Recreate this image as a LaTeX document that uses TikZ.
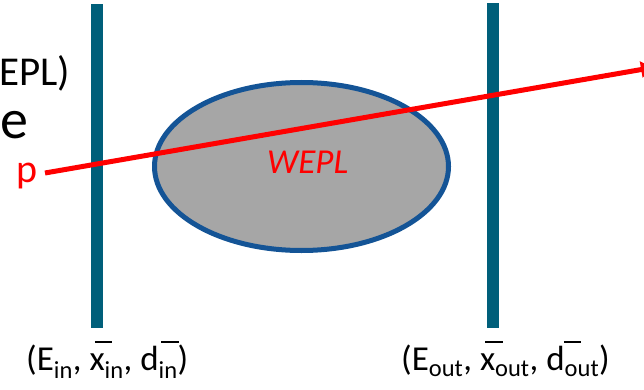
\documentclass[tikz,border=0pt]{standalone}
\usepackage{fontspec}
\setmainfont{Carlito}
\usetikzlibrary{shapes.geometric, positioning, arrows.meta}
\definecolor{detteal}{RGB}{0,95,122}
\definecolor{phantomblue}{RGB}{20,84,150}
\definecolor{phantomgray}{RGB}{166,166,166}
\newcommand{\barred}[2]{\rlap{\hspace{#1}\rule[0.77em]{0.5em}{0.045em}}#2}

\begin{document}
\begin{tikzpicture}[x=1pt, y=-1pt,
        >={Triangle[length=12pt, width=16pt]}, % Sets arrow style
        detector/.style={fill=detteal, minimum width=12pt, minimum height=324pt, inner sep=0pt},
        phantom/.style={draw=phantomblue, line width=5pt, fill=phantomgray, ellipse, minimum width=294pt, minimum height=168pt, inner sep=0pt},
        proton/.style={draw=red, line width=5pt, ->},
        slidetext/.style={inner sep=0pt, font=\fontsize{41}{48}\selectfont},
        redtext/.style={inner sep=0pt, anchor=base west, text=red},
        detlabel/.style={inner sep=0pt, anchor=base west, font=\fontsize{35}{40}\selectfont}
    ]
    \useasboundingbox (0,0) rectangle (644,390);

    % --- Slide text at the left edge ---
    \node[slidetext, anchor=base west] (title) at (-1,86) {EPL)};
    \node[slidetext, anchor=base west, font=\fontsize{56}{60}\selectfont] (fragment) at (0,139) {e};

    % --- Detectors ---
    \node[detector] (detin) at (97,166) {};
    \node[detector] (detout) at (493,165.5) {};

    % --- Phantom ---
    \node[phantom] (phantom) at (301.5,166.5) {};
    \node[redtext, font=\fontsize{35}{40}\selectfont\itshape] (wepl) at (267,173) {WEPL};

    % --- Proton path ---
    \node[redtext, font=\fontsize{40}{48}\selectfont] (p) at (16,182) {p};
    \coordinate (entry) at (45,173);
    \coordinate (exit) at (653,67.5);
    \draw[proton] (entry) -- (exit);

    % --- Detector readings ---
    \node[detlabel] (inlabel) at (26,370) {(E\textsubscript{in}, \barred{0.15em}{x}\textsubscript{in}, \barred{0.6em}{d}\textsubscript{in})};
    \node[detlabel] (outlabel) at (401,370) {(E\textsubscript{out}, \barred{0.15em}{x}\textsubscript{out}, \barred{0.5em}{d}\textsubscript{out})};

\end{tikzpicture}
\end{document}
